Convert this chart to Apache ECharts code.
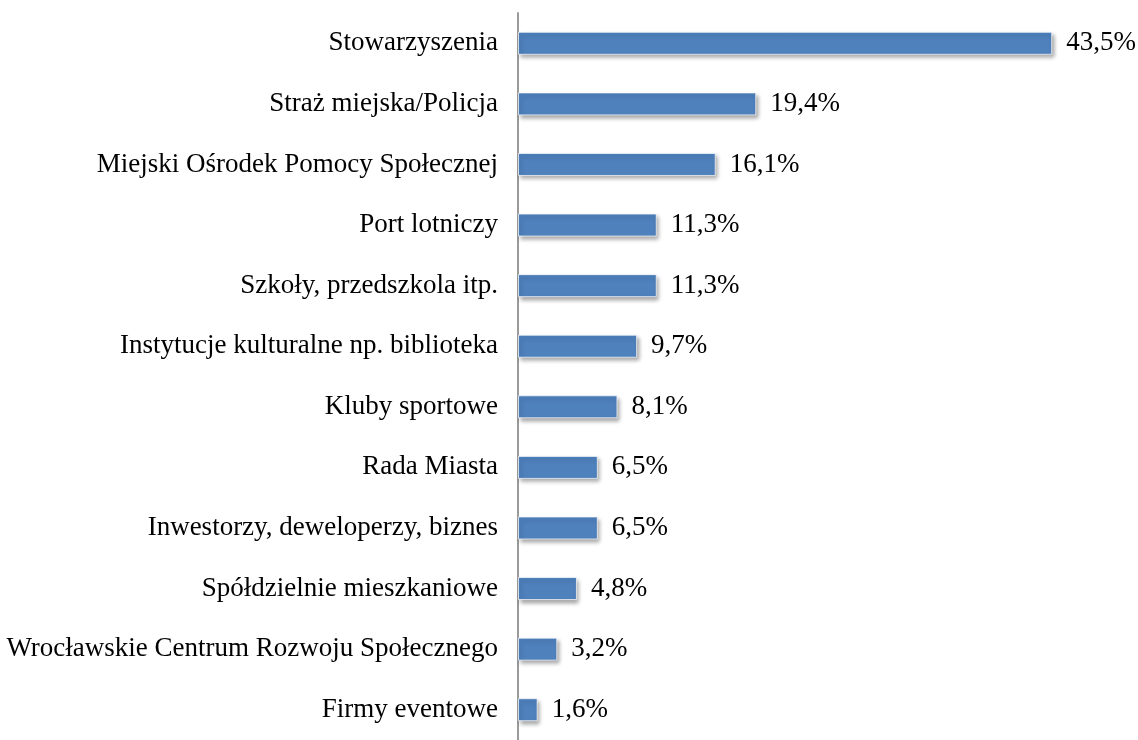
<!DOCTYPE html>
<html>
<head>
<meta charset="utf-8">
<script src="https://cdn.jsdelivr.net/npm/echarts@6/dist/echarts.min.js"></script>
<style>
  html, body { margin: 0; padding: 0; background: #fff; }
  #chart { width: 1138px; height: 740px; }
</style>
</head>
<body>
<div id="chart"></div>
<script>
// kategorie (od góry)
const categories = [
  'Stowarzyszenia',
  'Straż miejska/Policja',
  'Miejski Ośrodek Pomocy Społecznej',
  'Port lotniczy',
  'Szkoły, przedszkola itp.',
  'Instytucje kulturalne np. biblioteka',
  'Kluby sportowe',
  'Rada Miasta',
  'Inwestorzy, deweloperzy, biznes',
  'Spółdzielnie mieszkaniowe',
  'Wrocławskie Centrum Rozwoju Społecznego',
  'Firmy eventowe'
]
const values = [43.5, 19.4, 16.1, 11.3, 11.3, 9.7, 8.1, 6.5, 6.5, 4.8, 3.2, 1.6]

const chart = echarts.init(document.getElementById('chart'))

const fmt = v => v.toFixed(1).replace('.', ',') + '%'

chart.setOption({
  animation: false,
  textStyle: { fontFamily: '"Liberation Serif", "Times New Roman", serif' },
  grid: {
    left: 518,
    top: 13,
    width: 614,
    height: 736
  },
  xAxis: {
    type: 'value',
    min: 0,
    max: 50,
    show: false
  },
  yAxis: {
    type: 'category',
    data: categories,
    inverse: true,
    axisTick: { show: false },
    axisLine: { lineStyle: { color: '#9a9a9a', width: 2 } },
    axisLabel: {
      margin: 20,
      color: '#000',
      fontSize: 27,
      fontFamily: '"Liberation Serif", "Times New Roman", serif'
    }
  },
  series: [
    {
      type: 'bar',
      data: values,
      barWidth: 23,
      itemStyle: {
        color: '#4f81bd',
        borderColor: 'rgba(255,255,255,0.7)',
        borderWidth: 1,
        shadowColor: 'rgba(0,0,0,0.35)',
        shadowBlur: 4,
        shadowOffsetX: 2,
        shadowOffsetY: 3
      },
      label: {
        show: true,
        position: 'right',
        distance: 14,
        color: '#000',
        fontSize: 27,
        fontFamily: '"Liberation Serif", "Times New Roman", serif',
        formatter: p => fmt(p.value)
      }
    }
  ]
})
</script>
</body>
</html>
